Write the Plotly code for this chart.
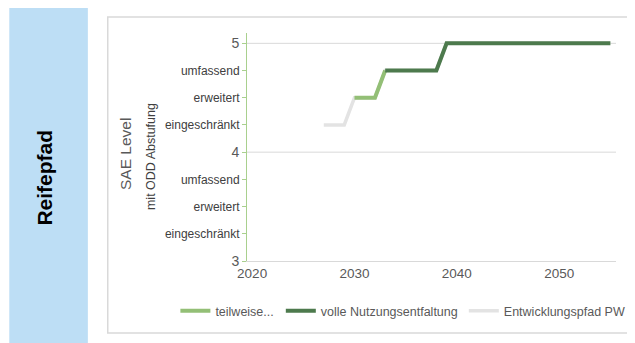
import plotly.graph_objects as go

# ---- data ----
years_pw = [2027, 2028, 2029, 2030, 2031, 2032, 2033, 2034, 2035, 2036, 2037, 2038,
            2039, 2040, 2041, 2042, 2043, 2044, 2045, 2046, 2047, 2048, 2049, 2050,
            2051, 2052, 2053, 2054, 2055]
level_pw = [4.25, 4.25, 4.25, 4.5, 4.5, 4.5, 4.75, 4.75, 4.75, 4.75, 4.75, 4.75,
            5, 5, 5, 5, 5, 5, 5, 5, 5, 5, 5, 5, 5, 5, 5, 5, 5]

years_teil = [2030, 2031, 2032, 2033]
level_teil = [4.5, 4.5, 4.5, 4.75]

years_voll = [2033, 2034, 2035, 2036, 2037, 2038, 2039, 2040, 2041, 2042, 2043, 2044,
              2045, 2046, 2047, 2048, 2049, 2050, 2051, 2052, 2053, 2054, 2055]
level_voll = [4.75, 4.75, 4.75, 4.75, 4.75, 4.75, 5, 5, 5, 5, 5, 5,
              5, 5, 5, 5, 5, 5, 5, 5, 5, 5, 5]

series_names = ["teilweise...", "volle Nutzungsentfaltung", "Entwicklungspfad PW"]

major_vals = [3, 4, 5]
major_text = ["3", "4", "5"]
odd_vals = [3.25, 3.5, 3.75, 4.25, 4.5, 4.75]
odd_text = ["eingeschränkt", "erweitert", "umfassend",
            "eingeschränkt", "erweitert", "umfassend"]
grid_levels = [4, 5]
x_ticks = [2020, 2030, 2040, 2050]

# ---- style ----
FONT = "Liberation Sans, Arial, sans-serif"
C_LIGHT = "#93bf76"
C_DARK = "#4d7a4d"
C_GREY = "#e3e3e3"
C_AXIS = "#a9d08e"
C_TXT = "#595959"

OFF = 8  # page body margin
W, H = 635, 343
L = 247 - OFF
PLOT_R = 618 - OFF
T = 33 - OFF
PLOT_B = 261 - OFF
R = W - PLOT_R
B = H - PLOT_B
PW, PH = PLOT_R - L, PLOT_B - T


def px(x):
    """page pixel x -> paper fraction"""
    return (x - OFF - L) / PW


def py(y):
    """page pixel y -> paper fraction"""
    return (PLOT_B - (y - OFF)) / PH


fig = go.Figure()

fig.add_trace(go.Scatter(x=years_pw, y=level_pw, mode="lines", name=series_names[2],
                         line=dict(color=C_GREY, width=3.5), legend="legend3",
                         hoverinfo="skip"))
fig.add_trace(go.Scatter(x=years_teil, y=level_teil, mode="lines", name=series_names[0],
                         line=dict(color=C_LIGHT, width=4), legend="legend",
                         hoverinfo="skip"))
fig.add_trace(go.Scatter(x=years_voll, y=level_voll, mode="lines", name=series_names[1],
                         line=dict(color=C_DARK, width=4), legend="legend2",
                         hoverinfo="skip"))
fig.add_trace(go.Scatter(x=[], y=[], yaxis="y2", showlegend=False, hoverinfo="skip"))

yr = [3, 5.095]

shapes = [
    dict(type="rect", xref="paper", yref="paper", x0=px(8), x1=px(87), y0=py(352), y1=py(6),
         fillcolor="#bddef5", line=dict(width=0), layer="below"),
    dict(type="rect", xref="paper", yref="paper", x0=px(107), x1=px(650), y0=py(333), y1=py(17),
         fillcolor="rgba(0,0,0,0)", line=dict(color="#d9d9d9", width=1.5), layer="below"),
]
for g in grid_levels:
    shapes.append(dict(type="line", xref="paper", yref="y", x0=0, x1=1, y0=g, y1=g,
                       line=dict(color="#d9d9d9", width=1), layer="below"))

annotations = [
    dict(text="<b>Reifepfad</b>", xref="paper", yref="paper", x=px(43), y=py(177.5),
         textangle=-90, showarrow=False, font=dict(family=FONT, size=21, color="#000000"),
         xanchor="center", yanchor="middle"),
    dict(text="SAE Level", xref="paper", yref="y", x=px(125), y=3.98,
         textangle=-90, showarrow=False, font=dict(family=FONT, size=15.5, color=C_TXT),
         xanchor="center", yanchor="middle"),
    dict(text="mit ODD Abstufung", xref="paper", yref="y", x=px(150), y=3.96,
         textangle=-90, showarrow=False, font=dict(family=FONT, size=12.5, color="#404040"),
         xanchor="center", yanchor="middle"),
]

legend_common = dict(orientation="h", yanchor="middle", xanchor="left",
                     font=dict(family=FONT, size=12.5, color=C_TXT),
                     bgcolor="rgba(0,0,0,0)", borderwidth=0, itemwidth=30)

fig.update_layout(
    width=W, height=H,
    margin=dict(l=L, r=R, t=T, b=B, pad=0),
    paper_bgcolor="white", plot_bgcolor="white",
    font=dict(family=FONT, color=C_TXT),
    showlegend=True,
    legend=dict(x=px(175), y=py(311), **legend_common),
    legend2=dict(x=px(281), y=py(311), **legend_common),
    legend3=dict(x=px(465), y=py(311), **legend_common),
    xaxis=dict(range=[2019.5, 2055.55], tickvals=x_ticks, showgrid=False, zeroline=False,
               showline=True, linecolor="#d9d9d9", linewidth=1, ticks="",
               tickfont=dict(family=FONT, size=13.5, color=C_TXT), fixedrange=True),
    yaxis=dict(range=yr, tickvals=major_vals, ticktext=major_text, showgrid=False,
               zeroline=False, showline=True, linecolor=C_AXIS, linewidth=1,
               ticks="outside", ticklen=4, tickcolor=C_AXIS,
               tickfont=dict(family=FONT, size=14, color=C_TXT)),
    yaxis2=dict(range=yr, overlaying="y", side="left", anchor="x", tickvals=odd_vals,
                ticktext=odd_text, showgrid=False, zeroline=False, showline=False,
                ticks="outside", ticklen=4, tickcolor=C_AXIS,
                tickfont=dict(family=FONT, size=12, color="#404040")),
    shapes=shapes,
    annotations=annotations,
)

fig.write_html("out.html")
